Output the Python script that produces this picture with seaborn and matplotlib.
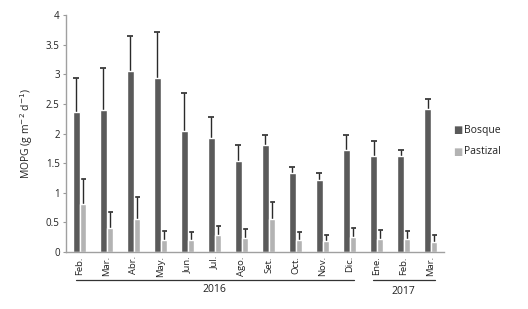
import pandas as pd
import numpy as np
import matplotlib
matplotlib.use("Agg")
import matplotlib.pyplot as plt
import matplotlib.transforms as mtransforms
import seaborn as sns

months = ['Feb.', 'Mar.', 'Abr.', 'May.', 'Jun.', 'Jul.', 'Ago.', 'Set.',
          'Oct.', 'Nov.', 'Dic.', 'Ene.', 'Feb. ', 'Mar. ']
bosque = [2.37, 2.39, 3.06, 2.93, 2.04, 1.93, 1.53, 1.81, 1.33, 1.21, 1.73, 1.62, 1.62, 2.42]
bosque_err = [0.56, 0.72, 0.58, 0.78, 0.64, 0.35, 0.27, 0.16, 0.11, 0.13, 0.24, 0.25, 0.10, 0.16]
pastizal = [0.81, 0.40, 0.55, 0.21, 0.21, 0.29, 0.24, 0.56, 0.21, 0.19, 0.25, 0.22, 0.22, 0.17]
pastizal_err = [0.42, 0.27, 0.38, 0.14, 0.13, 0.15, 0.15, 0.28, 0.13, 0.10, 0.15, 0.15, 0.13, 0.11]
years = ['2016', '2017']

df = pd.DataFrame({
    'Mes': months * 2,
    'MOPG': bosque + pastizal,
    'err': bosque_err + pastizal_err,
    'Sitio': ['Bosque'] * len(months) + ['Pastizal'] * len(months),
})

sns.set_style('white')
plt.rcParams['font.family'] = ['Open Sans', 'DejaVu Sans']

fig = plt.figure(figsize=(5.28, 3.09), dpi=100)
ax = fig.add_axes([0.125, 0.1845, 0.716, 0.7665])
palette = {'Bosque': '#5a5a5a', 'Pastizal': '#b3b3b3'}
sns.barplot(data=df, x='Mes', y='MOPG', hue='Sitio', palette=palette,
            errorbar=None, width=0.45, gap=0, saturation=1, ax=ax, legend=False,
            zorder=2)

# error bars drawn behind the bars so only the upper half shows
n = len(months)
for i, p in enumerate(ax.patches[:2 * n]):
    row = df.iloc[i]
    xc = p.get_x() + p.get_width() / 2
    ax.errorbar(xc, row['MOPG'], yerr=row['err'], fmt='none',
                ecolor='#2a2a2a', elinewidth=1, capsize=2.5, capthick=1.2, zorder=1)

ax.set_ylim(0, 4)
ax.set_xlim(-0.5, n - 0.5)
ax.set_yticks(np.arange(0, 4.01, 0.5))
ax.set_yticklabels(['0', '0.5', '1', '1.5', '2', '2.5', '3', '3.5', '4'])
ax.set_xticks(range(n))
ax.set_xticklabels([m.strip() for m in months], rotation=90)
ax.tick_params(axis='x', length=0, pad=3, labelsize=6.8, colors='#222222')
ax.tick_params(axis='y', length=2.5, width=0.8, direction='out', left=True,
               labelsize=7, colors='#999999', labelcolor='#222222', pad=2)
ax.set_xlabel('')
ax.set_ylabel('MOPG (g m$^{-2}$ d$^{-1}$)', fontsize=7.5, color='#222222', labelpad=8)
sns.despine(ax=ax)
for s in ['left', 'bottom']:
    ax.spines[s].set_color('#a0a0a0')
    ax.spines[s].set_linewidth(1)

# year grouping lines
tr = mtransforms.blended_transform_factory(ax.transData, ax.transAxes)
ax.plot([-0.13, 10.17], [-0.118, -0.118], transform=tr, color='#333333', lw=0.9, clip_on=False)
ax.plot([10.87, 13.17], [-0.118, -0.118], transform=tr, color='#333333', lw=0.9, clip_on=False)
ax.text(5.0, -0.158, years[0], transform=tr, ha='center', va='center', fontsize=7.5, color='#222222')
ax.text(12.0, -0.168, years[1], transform=tr, ha='center', va='center', fontsize=7.5, color='#222222')

# legend
for lab, yy in [('Bosque', 130), ('Pastizal', 152)]:
    fig.text(458 / 528, 1 - yy / 309, '\u25a0', color=palette[lab], fontsize=7,
             ha='center', va='center', family='DejaVu Sans')
    fig.text(464 / 528, 1 - yy / 309, lab, fontsize=7.5, ha='left', va='center', color='#222222')

fig.savefig('out.png', dpi=100)
